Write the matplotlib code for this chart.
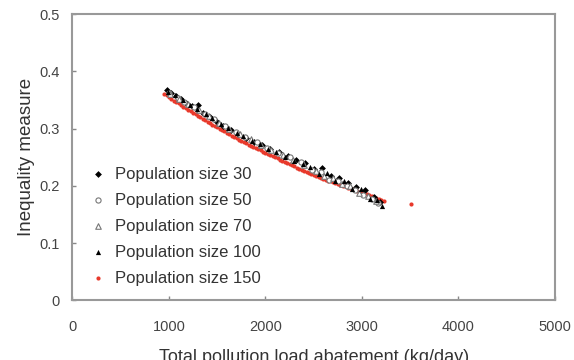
import matplotlib.pyplot as plt

plt.rcParams['font.family'] = ['Liberation Sans', 'DejaVu Sans']

# population size 30 (black diamonds)
x30 = [975, 1020, 1070, 1120, 1180, 1240, 1300, 1350, 1420, 1490, 1560, 1640, 1720, 1800, 1880,
       1960, 2050, 2140, 2230, 2320, 2410, 2500, 2590, 2680, 2760, 2850, 2940, 3030, 3120, 3190]
y30 = [0.367, 0.362, 0.357, 0.352, 0.345, 0.339, 0.341, 0.327, 0.320, 0.313, 0.305, 0.298, 0.290,
       0.283, 0.277, 0.271, 0.265, 0.259, 0.252, 0.246, 0.240, 0.230, 0.232, 0.218, 0.213, 0.205,
       0.198, 0.192, 0.180, 0.172]

# population size 50 (open circles)
x50 = [1000, 1090, 1160, 1260, 1370, 1470, 1580, 1690, 1790, 1910, 2020, 2130, 2250, 2370,
       2480, 2570, 2660, 2750, 2840, 2930, 3010, 3100, 3170]
y50 = [0.362, 0.354, 0.347, 0.337, 0.326, 0.316, 0.304, 0.294, 0.285, 0.276, 0.266, 0.258,
       0.250, 0.241, 0.228, 0.224, 0.210, 0.209, 0.200, 0.192, 0.184, 0.178, 0.170]

# population size 70 (open triangles)
x70 = [1010, 1100, 1200, 1310, 1410, 1520, 1620, 1740, 1850, 1950, 2060, 2180, 2290, 2400,
       2520, 2610, 2700, 2790, 2880, 2970, 3060, 3140]
y70 = [0.361, 0.352, 0.343, 0.333, 0.322, 0.310, 0.300, 0.290, 0.281, 0.272, 0.263, 0.254,
       0.245, 0.236, 0.226, 0.218, 0.214, 0.203, 0.199, 0.188, 0.183, 0.174]

# population size 100 (black triangles)
x100 = [990, 1060, 1140, 1220, 1290, 1380, 1450, 1540, 1610, 1700, 1770, 1860, 1940, 2030,
        2110, 2200, 2300, 2390, 2460, 2550, 2640, 2720, 2810, 2900, 2990, 3080, 3160, 3210]
y100 = [0.364, 0.358, 0.350, 0.342, 0.335, 0.326, 0.318, 0.308, 0.301, 0.293, 0.287, 0.279,
        0.273, 0.264, 0.259, 0.251, 0.243, 0.238, 0.233, 0.221, 0.222, 0.208, 0.208, 0.194,
        0.195, 0.177, 0.176, 0.165]

# population size 150 (red dots)
x150 = [950, 975, 1000, 1025, 1050, 1075, 1100, 1125, 1150, 1175, 1200, 1225, 1250, 1275,
        1300, 1325, 1350, 1375, 1400, 1425, 1450, 1475, 1500, 1525, 1550, 1575, 1600, 1625,
        1650, 1675, 1700, 1725, 1750, 1775, 1800, 1825, 1850, 1875, 1900, 1925, 1950, 1975,
        2000, 2025, 2050, 2075, 2100, 2125, 2150, 2175, 2200, 2225, 2250, 2275, 2300, 2325,
        2350, 2375, 2400, 2425, 2450, 2475, 2500, 2525, 2550, 2575, 2600, 2625, 2650, 2675,
        2700, 2725, 2750, 2775, 2800, 2825, 2850, 2875, 2900, 2925, 2950, 2975, 3000, 3025,
        3050, 3075, 3100, 3125, 3150, 3175, 3200, 3230, 3510]
y150 = [0.360, 0.358, 0.355, 0.352, 0.349, 0.347, 0.344, 0.341, 0.338, 0.336, 0.333, 0.331,
        0.328, 0.325, 0.322, 0.320, 0.317, 0.315, 0.312, 0.310, 0.307, 0.305, 0.302, 0.300,
        0.297, 0.295, 0.292, 0.290, 0.287, 0.285, 0.283, 0.280, 0.278, 0.276, 0.274, 0.272,
        0.270, 0.268, 0.266, 0.264, 0.262, 0.260, 0.258, 0.256, 0.254, 0.252, 0.250, 0.248,
        0.246, 0.244, 0.242, 0.240, 0.238, 0.236, 0.234, 0.232, 0.230, 0.228, 0.226, 0.225,
        0.223, 0.221, 0.219, 0.218, 0.216, 0.214, 0.212, 0.211, 0.209, 0.208, 0.206, 0.205,
        0.203, 0.202, 0.200, 0.199, 0.197, 0.196, 0.194, 0.193, 0.191, 0.190, 0.188, 0.187,
        0.185, 0.184, 0.182, 0.181, 0.179, 0.178, 0.176, 0.173, 0.169]

xticks = [0, 1000, 2000, 3000, 4000, 5000]
yticks = [0, 0.1, 0.2, 0.3, 0.4, 0.5]
ylabels = ['0', '0.1', '0.2', '0.3', '0.4', '0.5']

fig = plt.figure(figsize=(5.74, 3.6), dpi=100)
ax = fig.add_axes([0.1263, 0.1653, 0.8406, 0.7958])

ax.scatter(x150, y150, s=9, color='#e8392b', lw=0, label='Population size 150', zorder=2)
ax.scatter(x30, y30, s=12, marker='D', color='black', lw=0, label='Population size 30', zorder=3)
ax.scatter(x50, y50, s=14, marker='o', facecolor='white', edgecolor='#777777', lw=0.8,
           label='Population size 50', zorder=3)
ax.scatter(x70, y70, s=16, marker='^', facecolor='white', edgecolor='#777777', lw=0.8,
           label='Population size 70', zorder=3)
ax.scatter(x100, y100, s=14, marker='^', color='black', lw=0, label='Population size 100', zorder=3)

ax.set_xlim(0, 5000)
ax.set_ylim(0, 0.5)
ax.set_xticks(xticks)
ax.set_yticks(yticks)
ax.set_yticklabels(ylabels)
ax.tick_params(direction='in', length=3, width=1, color='#888888', labelsize=10.5, labelcolor='#444444')
ax.tick_params(axis='x', pad=14)
ax.tick_params(axis='y', pad=9)
for s in ax.spines.values():
    s.set_color('#999999')
    s.set_linewidth(1.5)

ax.set_xlabel('Total pollution load abatement (kg/day)', fontsize=13, color='#333333', labelpad=11)
ax.set_ylabel('Inequality measure', fontsize=13.5, color='#333333', labelpad=3)

h, l = ax.get_legend_handles_labels()
order = [1, 2, 3, 4, 0]
ax.legend([h[i] for i in order], [l[i] for i in order], loc='upper left',
          bbox_to_anchor=(0.156, 0.537), bbox_transform=fig.transFigure, frameon=False,
          fontsize=12, labelspacing=0.66, handlelength=1.0, handletextpad=0.5, borderpad=0,
          borderaxespad=0, labelcolor='#333333', scatterpoints=1)

plt.savefig('out.png')
